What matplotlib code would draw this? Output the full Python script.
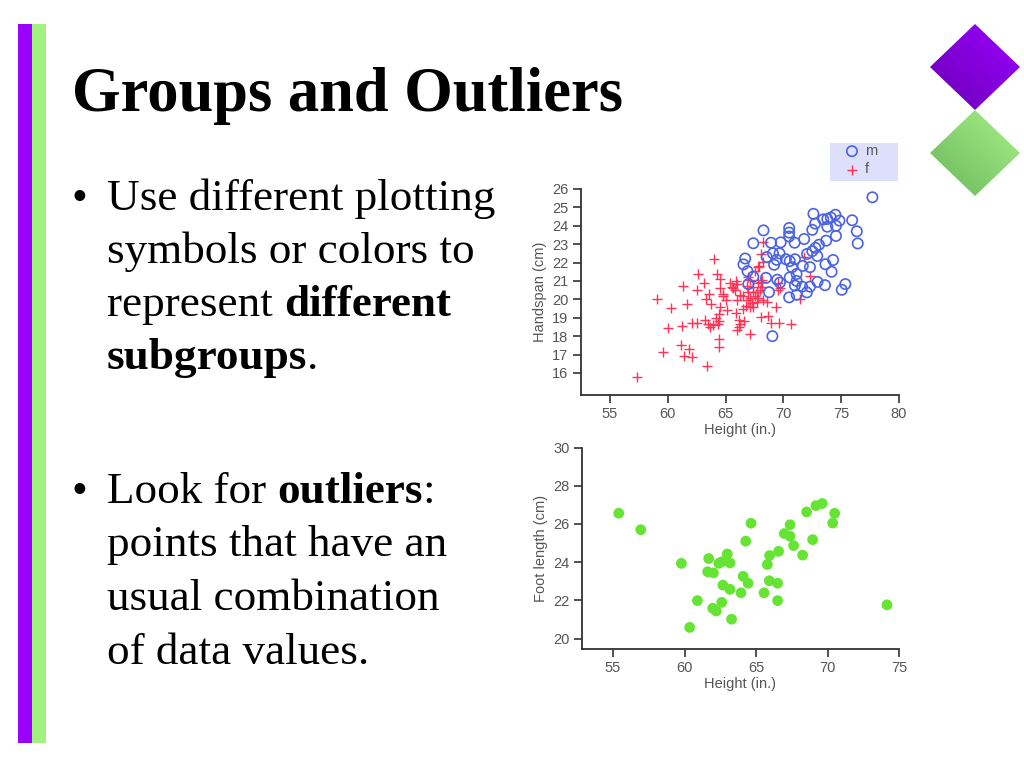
import numpy as np
import matplotlib
matplotlib.use("Agg")
import matplotlib.pyplot as plt
from matplotlib.patches import Polygon, Rectangle

# handspan data (height in., handspan cm)
m_height = [77.7, 72.6, 74.5, 74.1, 73.8, 73.45, 74.85, 75.95, 72.75, 73.8, 74.55, 72.5, 76.35,
            74.55, 70.5, 70.5, 70.5, 68.28, 71.8, 73.7, 70.97, 69.77, 68.93, 67.4, 76.43, 73.08,
            72.77, 72.5, 72.05, 72.93, 69.1, 69.67, 68.56, 69.42, 70.22, 70.55, 71.0, 66.7, 74.3,
            66.55, 73.64, 69.2, 70.75, 71.68, 72.3, 66.9, 67.4, 68.5, 69.47, 69.7, 70.55, 71.15,
            71.14, 74.17, 72.95, 73.6, 75.36, 66.97, 71.0, 71.62, 72.3, 72.03, 70.5, 71.15, 68.76,
            75.05, 69.05]
m_span = [25.55, 24.65, 24.6, 24.45, 24.37, 24.35, 24.28, 24.3, 24.12, 23.95, 24.0, 23.78, 23.7,
          23.45, 23.88, 23.63, 23.42, 23.75, 23.28, 23.19, 23.08, 23.1, 23.08, 23.05, 23.04, 22.97,
          22.8, 22.62, 22.47, 22.36, 22.5, 22.5, 22.3, 22.15, 22.18, 22.08, 22.18, 22.22, 22.14,
          21.9, 21.91, 21.88, 21.75, 21.82, 21.75, 21.53, 21.23, 21.17, 21.07, 20.91, 21.19, 21.0,
          21.38, 21.5, 20.95, 20.77, 20.83, 20.83, 20.75, 20.69, 20.69, 20.38, 20.11, 20.25, 20.39,
          20.52, 18.0]

f_height = [57.3, 59.04, 60.27, 59.99, 59.6, 61.34, 61.66, 61.27, 62.06, 62.55, 61.14, 61.86, 61.43,
            62.06, 63.42, 64.0, 62.64, 64.23, 64.5, 63.1, 62.55, 64.5, 65.4, 65.93, 66.0, 63.59,
            64.8, 65.78, 63.3, 63.77, 65.03, 64.49, 65.15, 64.46, 64.2, 65.96, 66.5, 66.91, 67.26,
            67.54, 67.76, 65.93, 66.55, 66.76, 66.15, 66.6, 66.02, 66.2, 67.15, 63.22, 63.5, 63.65,
            63.94, 64.45, 64.46, 64.46, 64.37, 64.75, 65.67, 66.25, 66.25, 66.91, 67.11, 67.4,
            67.83, 67.11, 67.4, 67.74, 68.27, 68.56, 68.1, 68.7, 68.9, 69.65, 69.36, 69.5, 70.68,
            71.4, 67.83, 68.12, 67.98, 72.3, 68.27, 68.06, 67.83, 67.54, 71.76, 66.97, 67.11, 66.83,
            67.4, 68.03, 68.12, 69.56, 69.71, 68.21, 65.52, 67.86]
f_span = [15.8, 20.0, 19.52, 18.42, 17.16, 20.71, 19.75, 18.53, 18.73, 18.73, 17.52, 17.32, 16.92,
          16.89, 16.38, 22.2, 21.38, 21.38, 21.12, 20.9, 20.53, 20.6, 20.87, 21.0, 20.82, 20.27,
          20.3, 20.5, 20.0, 19.77, 19.95, 19.58, 19.44, 19.2, 19.0, 19.98, 20.2, 19.97, 19.79,
          20.18, 20.4, 19.24, 19.45, 19.62, 18.9, 18.8, 18.34, 18.5, 18.1, 18.88, 18.66, 18.52,
          18.61, 18.84, 17.83, 17.43, 18.66, 20.18, 20.6, 20.24, 18.66, 20.42, 20.06, 20.42,
          20.1, 19.6, 19.6, 19.88, 19.97, 19.88, 19.03, 19.1, 18.7, 18.73, 19.57, 20.51, 18.65,
          20.03, 20.87, 21.05, 20.51, 21.25, 23.13, 22.46, 21.74, 21.56, 22.3, 21.23, 21.05, 20.73,
          20.69, 20.96, 20.69, 20.87, 20.6, 22.05, 20.69, 21.82]

# foot length data
foot_height = [55.4, 56.94, 64.65, 64.28, 67.38, 66.98, 67.38, 67.63, 68.54, 69.19, 69.63, 70.5,
               70.36, 68.96, 68.26, 66.58, 65.95, 62.99, 61.69, 59.78, 62.4, 62.6, 63.18, 61.62,
               62.02, 64.1, 64.45, 62.68, 63.18, 63.95, 65.56, 65.93, 66.51, 65.79, 66.51, 60.9,
               62.6, 61.97, 62.22, 63.29, 60.36, 74.16]
foot_len = [26.56, 25.7, 26.04, 25.1, 25.96, 25.5, 25.36, 24.87, 26.63, 26.96, 27.07, 26.56,
            26.05, 25.18, 24.37, 24.57, 24.35, 24.43, 24.19, 23.94, 23.94, 24.02, 23.96, 23.5,
            23.44, 23.26, 22.9, 22.8, 22.58, 22.4, 22.4, 23.03, 22.9, 23.88, 21.99, 21.99,
            21.9, 21.59, 21.45, 21.02, 20.59, 21.77]

W, H = 1024, 768
fig = plt.figure(figsize=(W / 100, H / 100), dpi=100)

# slide overlay in pixel coordinates
bg = fig.add_axes([0, 0, 1, 1])
bg.set_xlim(0, W)
bg.set_ylim(H, 0)
bg.axis("off")

bg.add_patch(Rectangle((18, 24), 14, 719, color="#9900ff", lw=0))
bg.add_patch(Rectangle((32, 24), 14, 719, color="#a3f27f", lw=0))


def gradient_diamond(cx, cy, hw, hh, c1, c2):
    poly = Polygon([(cx, cy - hh), (cx + hw, cy), (cx, cy + hh), (cx - hw, cy)],
                   closed=True, fc="none", ec="none")
    bg.add_patch(poly)
    g = np.linspace(0, 1, 64)
    gx, gy = np.meshgrid(g, g)
    t = (gx + (1 - gy)) / 2
    c1 = np.array(matplotlib.colors.to_rgb(c1))
    c2 = np.array(matplotlib.colors.to_rgb(c2))
    img = c2 + (c1 - c2) * t[..., None]
    im = bg.imshow(img, extent=(cx - hw, cx + hw, cy + hh, cy - hh), zorder=2)
    im.set_clip_path(poly)


gradient_diamond(975, 67, 45, 43, "#9b00ff", "#6a00b4")
gradient_diamond(975, 153, 45, 43, "#a8f08a", "#6ab85a")

serif = "Liberation Serif"
bg.text(72, 111, "Groups and Outliers", fontsize=45, fontweight="bold",
        family=serif, va="baseline", ha="left")

fig.canvas.draw()
renderer = fig.canvas.get_renderer()
body_size = 32.5


def text_width(s, weight):
    # measure with a guard character so trailing spaces count
    t = bg.text(0, 0, s + "|", fontsize=body_size, family=serif, fontweight=weight)
    w = t.get_window_extent(renderer).width
    t.set_text("|")
    w -= t.get_window_extent(renderer).width
    t.remove()
    return w


def draw_runs(x, y, runs):
    for s, weight in runs:
        bg.text(x, y, s, fontsize=body_size, family=serif, fontweight=weight,
                va="baseline", ha="left")
        x += text_width(s, weight)


lines = [
    (210, [("Use different plotting", "normal")], True),
    (263, [("symbols or colors to", "normal")], False),
    (316, [("represent ", "normal"), ("different", "bold")], False),
    (369, [("subgroups", "bold"), (".", "normal")], False),
    (503, [("Look for ", "normal"), ("outliers", "bold"), (":", "normal")], True),
    (556, [("points that have an", "normal")], False),
    (610, [("usual combination", "normal")], False),
    (664, [("of data values.", "normal")], False),
]
for y, runs, bullet in lines:
    if bullet:
        bg.text(72, y, "\u2022", fontsize=body_size, family=serif, va="baseline", ha="left")
    draw_runs(107, y, runs)

sans = "Liberation Sans"
tick_color = "#555555"
spine_color = "#333333"


def style(ax):
    for side in ("top", "right"):
        ax.spines[side].set_visible(False)
    for side in ("left", "bottom"):
        ax.spines[side].set_color(spine_color)
        ax.spines[side].set_linewidth(1.3)
    ax.tick_params(direction="out", length=6, width=1.2, color=spine_color,
                   labelcolor=tick_color, labelsize=10.5, pad=3)
    for lab in ax.get_xticklabels() + ax.get_yticklabels():
        lab.set_family(sans)


# top scatter: handspan vs height
ax1 = fig.add_axes([581 / W, 1 - 395 / H, 318 / W, 206 / H])
hm = ax1.scatter(m_height, m_span, s=55, facecolors="none", edgecolors="#4a63e6",
                 linewidths=1.2, label="m", zorder=3)
hf = ax1.scatter(f_height, f_span, s=55, marker="+", color="#ff3355",
                 linewidths=1.0, label="f", zorder=2)
ax1.set_xlim(52.5, 80)
ax1.set_ylim(14.8, 26)
ax1.set_xticks([55, 60, 65, 70, 75, 80])
ax1.set_yticks(range(16, 27))
ax1.set_xlabel("Height (in.)", family=sans, fontsize=10.5, color=tick_color, labelpad=1)
ax1.set_ylabel("Handspan (cm)", family=sans, fontsize=10.5, color=tick_color, labelpad=4)
style(ax1)

# legend on a lavender panel above the plot
fig.patches.append(Rectangle((830 / W, 1 - 181 / H), 68 / W, 38 / H,
                             transform=fig.transFigure, color="#dde0fa", lw=0, zorder=0))
leg = fig.legend(handles=[hm, hf], labels=["m", "f"], loc="upper left",
                 bbox_to_anchor=(841 / W, 1 - 144 / H), borderaxespad=0,
                 frameon=False, prop={"family": sans, "size": 10.5},
                 handletextpad=0.15, labelspacing=0.3, borderpad=0,
                 handlelength=1.5)
for t in leg.get_texts():
    t.set_color(tick_color)

# bottom scatter: foot length vs height
ax2 = fig.add_axes([582 / W, 1 - 649 / H, 317 / W, 201.5 / H])
ax2.scatter(foot_height, foot_len, s=60, color="#66e433", edgecolors="none", zorder=3)
ax2.set_xlim(52.83, 75)
ax2.set_ylim(19.46, 30)
ax2.set_xticks([55, 60, 65, 70, 75])
ax2.set_yticks([20, 22, 24, 26, 28, 30])
ax2.set_xlabel("Height (in.)", family=sans, fontsize=10.5, color=tick_color, labelpad=1)
ax2.set_ylabel("Foot length (cm)", family=sans, fontsize=10.5, color=tick_color, labelpad=4)
style(ax2)

fig.savefig("out.png", dpi=100)
